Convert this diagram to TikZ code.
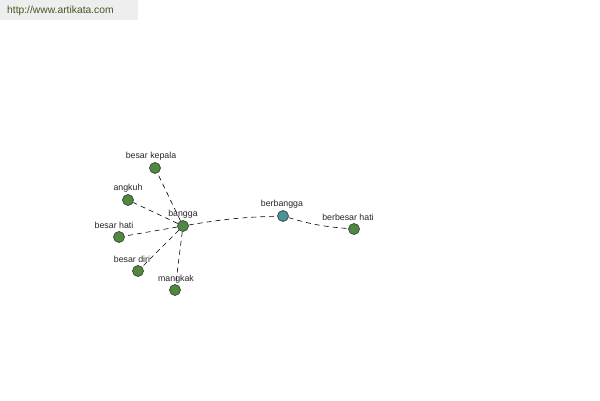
\documentclass[tikz,border=0pt]{standalone}
\usepackage{fontspec}
\setmainfont{Liberation Sans}
\definecolor{nodegreen}{HTML}{4E8A3E}
\definecolor{nodeteal}{HTML}{4A9294}
\definecolor{wmgreen}{HTML}{3F5A1E}
\definecolor{wmbg}{HTML}{EEEEEE}
\begin{document}
\begin{tikzpicture}[x=1pt,y=-1pt,
  vtx/.style={circle,draw=black!75,fill=nodegreen,minimum size=11pt,inner sep=0pt,line width=0.7pt},
  lbl/.style={font=\fontsize{8.8}{10}\selectfont,text=black!85,inner sep=0pt},
  edge/.style={draw=black,line width=0.6pt,dash pattern=on 5pt off 4pt}]
\useasboundingbox (0,0) rectangle (600,400);
\fill[wmbg] (0,0) rectangle (138,20);
\node[anchor=west,text=wmgreen,font=\fontsize{10.3}{12}\selectfont,inner sep=0pt] (wm) at (7,11) {http://www.artikata.com};
\node[vtx] (bangga) at (183,226) {};
\node[vtx] (kepala) at (155,168) {};
\node[vtx] (angkuh) at (128,200) {};
\node[vtx] (hati) at (119,237) {};
\node[vtx] (diri) at (138,271) {};
\node[vtx] (mangkak) at (175,290) {};
\node[vtx,fill=nodeteal] (berbangga) at (283,216) {};
\node[vtx] (berbesar) at (354,229) {};
\draw[edge] (bangga) -- (kepala);
\draw[edge] (bangga) -- (angkuh);
\draw[edge] (bangga) -- (hati);
\draw[edge] (bangga) -- (diri);
\draw[edge] (bangga) -- (mangkak);
\draw[edge] (bangga) to[bend left=4] (berbangga);
\draw[edge] (berbangga) to[bend right=6] (berbesar);
\node[lbl] (l1) at (151,156) {besar kepala};
\node[lbl] (l2) at (128,188) {angkuh};
\node[lbl] (l3) at (183,214) {bangga};
\node[lbl] (l4) at (114,225) {besar hati};
\node[lbl] (l5) at (132,259) {besar diri};
\node[lbl] (l6) at (176,279) {mangkak};
\node[lbl] (l7) at (282,204) {berbangga};
\node[lbl] (l8) at (348,217) {berbesar hati};
\end{tikzpicture}
\end{document}
